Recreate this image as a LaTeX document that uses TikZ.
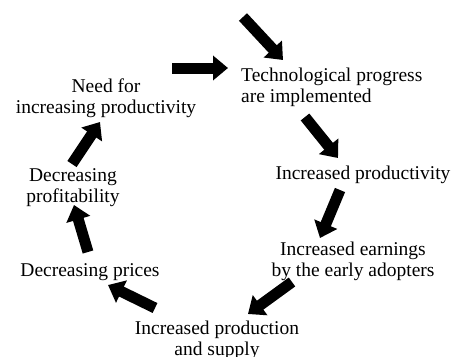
\documentclass[tikz,border=0pt]{standalone}
\usepackage{fontspec}
\setmainfont{Liberation Serif}
\usetikzlibrary{arrows.meta}
\begin{document}
\begin{tikzpicture}[x=1pt,y=-1pt,
  lbl/.style={font=\fontsize{19.5}{21}\selectfont, inner sep=0pt, align=center},
  blk/.style={line width=11pt, -{Triangle[width=24pt,length=15pt]}, draw=black}]
\useasboundingbox (0,0) rectangle (457,356);
\node[lbl] (need) at (106,98.5) {Need for\\increasing productivity};
\node[lbl, align=left, anchor=west] (tech) at (241,87) {Technological progress\\are implemented};
\node[lbl] (prod) at (363,175) {Increased productivity};
\node[lbl] (earn) at (353,261) {Increased earnings\\by the early adopters};
\node[lbl] (supply) at (217,340) {Increased production\\and supply};
\node[lbl] (prices) at (90,272) {Decreasing prices};
\node[lbl] (profit) at (73,187.5) {Decreasing\\profitability};
\coordinate (a1s) at (243,17); \coordinate (a1e) at (283,60);
\coordinate (a2s) at (172,68); \coordinate (a2e) at (228,68);
\coordinate (a3s) at (305,117); \coordinate (a3e) at (338,158);
\coordinate (a4s) at (340,190); \coordinate (a4e) at (320,238);
\coordinate (a5s) at (292,282); \coordinate (a5e) at (248,314);
\coordinate (a6s) at (155,308); \coordinate (a6e) at (108,285);
\coordinate (a7s) at (88,252); \coordinate (a7e) at (74,205);
\coordinate (a8s) at (72,164); \coordinate (a8e) at (100,122);
\foreach \i in {1,...,8} {\draw[blk] (a\i s) -- (a\i e);}
\end{tikzpicture}
\end{document}
